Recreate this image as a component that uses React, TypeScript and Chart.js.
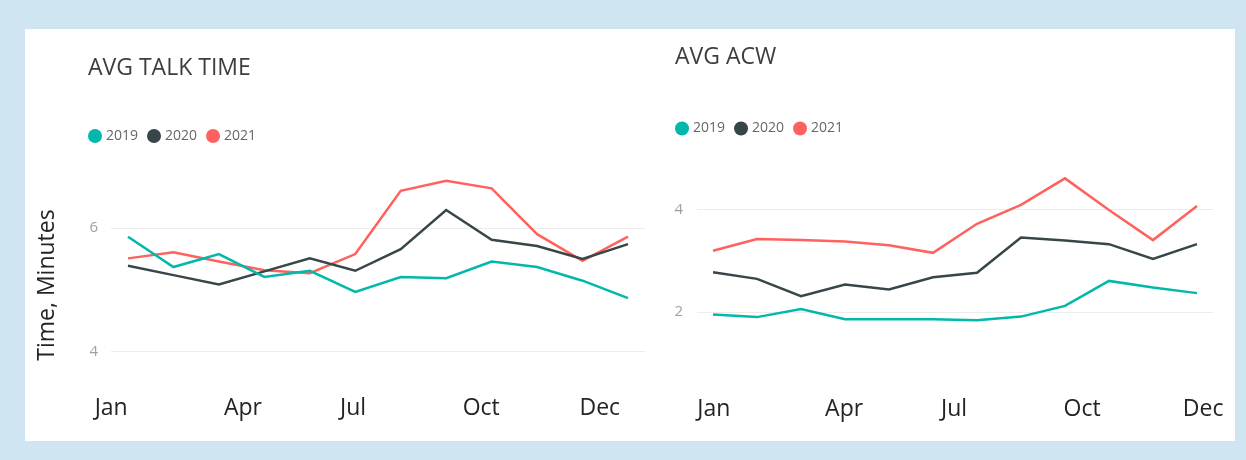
import React, { useEffect, useRef } from 'react';
import { Chart, registerables } from 'chart.js';

Chart.register(...registerables);

// ---------- data ----------
const months = ['Jan', 'Feb', 'Mar', 'Apr', 'May', 'Jun', 'Jul', 'Aug', 'Sep', 'Oct', 'Nov', 'Dec'];
const seriesYears = ['2019', '2020', '2021'];
const seriesColors = ['#01B8AA', '#374649', '#FD625E'];

const talk2019 = [5.86, 5.37, 5.58, 5.21, 5.31, 4.97, 5.21, 5.19, 5.46, 5.37, 5.15, 4.87];
const talk2020 = [5.39, 5.24, 5.09, 5.30, 5.51, 5.31, 5.66, 6.29, 5.81, 5.71, 5.50, 5.74];
const talk2021 = [5.51, 5.61, 5.46, 5.32, 5.27, 5.58, 6.60, 6.76, 6.64, 5.90, 5.47, 5.86];

const acw2019 = [1.95, 1.90, 2.06, 1.86, 1.86, 1.86, 1.84, 1.91, 2.12, 2.61, 2.48, 2.37];
const acw2020 = [2.78, 2.65, 2.31, 2.54, 2.44, 2.68, 2.77, 3.46, 3.40, 3.33, 3.04, 3.33];
const acw2021 = [3.20, 3.43, 3.41, 3.38, 3.31, 3.16, 3.73, 4.10, 4.62, 4.00, 3.41, 4.08];

const axisMonthLabels = ['Jan', 'Apr', 'Jul', 'Oct', 'Dec'];
const talkYTicks = [4, 6];
const acwYTicks = [2, 4];

// ---------- styling ----------
const FONT = "'Segoe UI', 'Open Sans', sans-serif";
const TITLE_COLOR = '#3d3d3d';
const LEGEND_COLOR = '#666666';
const AXIS_LABEL_COLOR = '#252423';
const Y_TICK_COLOR = '#a0a0a0';
const GRID_COLOR = '#ececec';

const headerPlugin = {
  id: 'header',
  afterDraw(chart: any, _args: any, opts: any) {
    const ctx = chart.ctx as CanvasRenderingContext2D;
    ctx.save();
    ctx.textBaseline = 'middle';
    ctx.textAlign = 'left';
    ctx.font = `23px ${FONT}`;
    ctx.fillStyle = TITLE_COLOR;
    ctx.fillText(opts.title, opts.x, opts.titleY);
    ctx.font = `14px ${FONT}`;
    const r = 7;
    let x = opts.x;
    chart.data.datasets.forEach((ds: any) => {
      ctx.fillStyle = ds.borderColor;
      ctx.beginPath();
      ctx.arc(x + r, opts.legendY, r, 0, Math.PI * 2);
      ctx.fill();
      x += 2 * r + 4;
      ctx.fillStyle = LEGEND_COLOR;
      ctx.fillText(ds.label, x, opts.legendY);
      x += ctx.measureText(ds.label).width + 9;
    });
    ctx.restore();
  },
};

function buildConfig(p: any): any {
  return {
    type: 'line',
    data: {
      datasets: p.series.map((vals: number[], k: number) => ({
        label: seriesYears[k],
        data: vals.map((v, i) => ({ x: i, y: v })),
        borderColor: seriesColors[k],
        backgroundColor: seriesColors[k],
        borderWidth: 2.5,
        pointRadius: 0,
        tension: 0,
        fill: false,
      })),
    },
    options: {
      animation: false,
      responsive: false,
      maintainAspectRatio: false,
      devicePixelRatio: 1,
      layout: { padding: p.padding },
      plugins: {
        legend: { display: false },
        title: { display: false },
        tooltip: { enabled: false },
        header: { title: p.title, x: p.headerX, titleY: p.titleY, legendY: p.legendY },
      },
      scales: {
        x: {
          type: 'linear',
          min: -p.xPad,
          max: months.length - 1 + p.xPad,
          grid: { display: false, drawTicks: false },
          border: { display: false },
          afterBuildTicks: (s: any) => {
            s.ticks = p.labelAt.map((v: number) => ({ value: v }));
          },
          afterFit: (s: any) => {
            s.height = p.xAxisHeight;
          },
          ticks: {
            autoSkip: false,
            maxRotation: 0,
            padding: p.xTickPad,
            color: AXIS_LABEL_COLOR,
            font: { family: FONT, size: 23 },
            callback: (_v: any, i: number) => axisMonthLabels[i],
          },
        },
        y: {
          type: 'linear',
          min: p.yMin,
          max: p.yMax,
          afterBuildTicks: (s: any) => {
            s.ticks = p.yTicks.map((v: number) => ({ value: v }));
          },
          afterFit: (s: any) => {
            s.width = p.yAxisWidth;
          },
          grid: { color: GRID_COLOR, lineWidth: 1, drawTicks: false },
          border: { display: false },
          ticks: {
            padding: p.yTickPad,
            color: Y_TICK_COLOR,
            font: { family: FONT, size: 15 },
          },
          title: p.yTitle
            ? {
                display: true,
                text: p.yTitle,
                color: AXIS_LABEL_COLOR,
                font: { family: FONT, size: 23 },
                padding: { top: 9, bottom: 0 },
              }
            : { display: false },
        },
      },
    },
    plugins: [headerPlugin],
  };
}

const talkSpec = {
  title: 'AVG TALK TIME',
  series: [talk2019, talk2020, talk2021],
  yTicks: talkYTicks,
  yMin: 3.306,
  yMax: 6.855,
  yTitle: 'Time, Minutes',
  xPad: 0.374,
  labelAt: [-0.37, 2.53, 4.95, 7.77, 10.38],
  padding: { top: 146, right: 5, bottom: 0, left: 0 },
  yAxisWidth: 86,
  xAxisHeight: 46,
  xTickPad: 0,
  yTickPad: 13,
  headerX: 63,
  titleY: 39.5,
  legendY: 107,
};

const acwSpec = {
  title: 'AVG ACW',
  series: [acw2019, acw2020, acw2021],
  yTicks: acwYTicks,
  yMin: 0.373,
  yMax: 5.176,
  yTitle: '',
  xPad: 0.364,
  labelAt: [0.02, 2.98, 5.48, 8.39, 11.14],
  padding: { top: 121, right: 22, bottom: 0, left: 0 },
  yAxisWidth: 47,
  xAxisHeight: 46,
  xTickPad: 1,
  yTickPad: 14,
  headerX: 25,
  titleY: 28.5,
  legendY: 99.5,
};

function LineChart({ spec, width, height, left }: any) {
  const ref = useRef<HTMLCanvasElement | null>(null);
  useEffect(() => {
    if (!ref.current) return;
    const chart = new Chart(ref.current, buildConfig(spec));
    return () => chart.destroy();
  }, [spec]);
  return (
    <canvas
      ref={ref}
      width={width}
      height={height}
      style={{ position: 'absolute', left, top: 0, width, height }}
    />
  );
}

export default function App() {
  return (
    <div
      style={{
        position: 'absolute',
        left: 0,
        top: 0,
        width: 1246,
        height: 460,
        background: '#cfe5f2',
        overflow: 'hidden',
      }}
    >
      <div
        style={{
          position: 'absolute',
          left: 25,
          top: 29,
          width: 1210,
          height: 412,
          background: '#ffffff',
        }}
      >
        <LineChart spec={talkSpec} width={625} height={412} left={0} />
        <LineChart spec={acwSpec} width={585} height={412} left={625} />
      </div>
    </div>
  );
}
